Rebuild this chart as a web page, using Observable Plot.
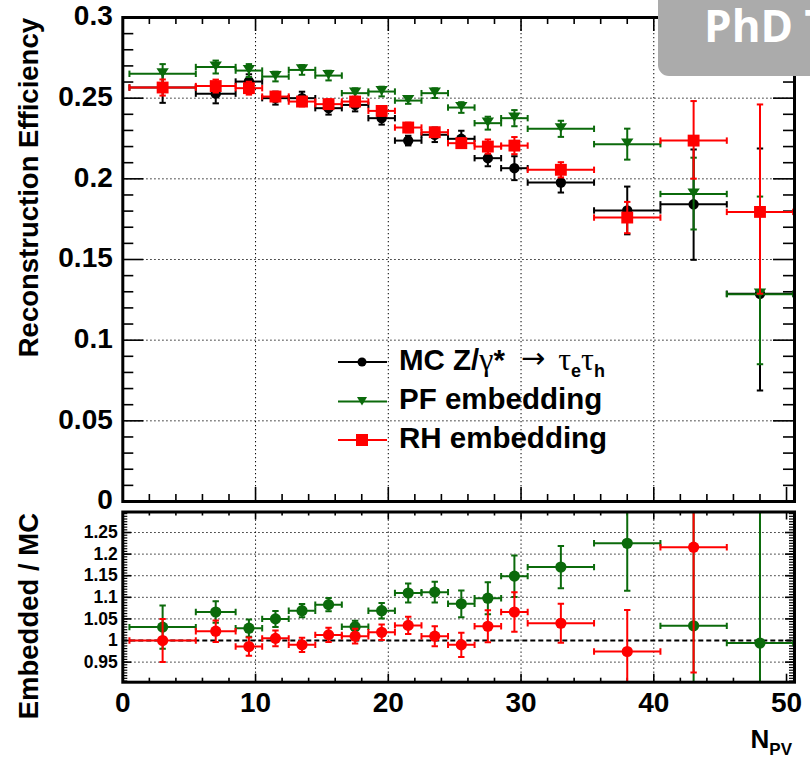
<!DOCTYPE html>
<html><head><meta charset="utf-8">
<script src="https://cdn.jsdelivr.net/npm/d3@7"></script>
<script src="https://cdn.jsdelivr.net/npm/@observablehq/plot@0.6"></script>
<style>
html,body{margin:0;padding:0;background:#fff;overflow:hidden;width:810px;height:762px;}
#wrap{position:relative;width:810px;height:762px;overflow:hidden;background:#fff;}
#wrap svg{display:block;}
#badge{position:absolute;left:658px;top:-14px;width:200px;height:90px;background:#ababab;border-radius:11px;overflow:hidden;}
#badge span{position:absolute;left:46px;top:17px;font-family:"Open Sans",sans-serif;font-weight:bold;font-size:44px;line-height:44px;color:#fff;white-space:nowrap;}
</style></head>
<body>
<div id="wrap"></div>
<script>
// ---------------- data ----------------
const binLo     = [0.5, 5.5, 8.5, 10.5, 12.5, 14.5, 16.5, 18.5, 20.5, 22.5, 24.5, 26.5, 28.5, 30.5, 35.5, 40.5, 45.5];
const binHi     = [5.5, 8.5, 10.5, 12.5, 14.5, 16.5, 18.5, 20.5, 22.5, 24.5, 26.5, 28.5, 30.5, 35.5, 40.5, 45.5, 50.5];
const binCenter = [3, 7, 9.5, 11.5, 13.5, 15.5, 17.5, 19.5, 21.5, 23.5, 25.5, 27.5, 29.5, 33, 38, 43, 48];

// efficiencies with (asymmetric) upper / lower errors
const mcEff   = [0.2566, 0.2528, 0.2603, 0.2500, 0.2500, 0.2438, 0.2458, 0.2376, 0.2237, 0.2273, 0.2248, 0.2128, 0.2066, 0.1977, 0.1804, 0.1842, 0.1288];
const mcErrUp = [0.0095, 0.0060, 0.0045, 0.0040, 0.0040, 0.0040, 0.0040, 0.0040, 0.0030, 0.0045, 0.0050, 0.0050, 0.0074, 0.0062, 0.0148, 0.0340, 0.0900];
const mcErrDn = [0.0095, 0.0060, 0.0045, 0.0040, 0.0040, 0.0040, 0.0040, 0.0040, 0.0030, 0.0045, 0.0050, 0.0050, 0.0074, 0.0062, 0.0148, 0.0344, 0.0600];
const pfEff   = [0.2651, 0.2693, 0.2671, 0.2634, 0.2675, 0.2640, 0.2531, 0.2541, 0.2485, 0.2531, 0.2442, 0.2345, 0.2376, 0.2310, 0.2215, 0.1906, 0.1285];
const pfErrUp = [0.0060, 0.0040, 0.0040, 0.0030, 0.0030, 0.0030, 0.0030, 0.0030, 0.0020, 0.0030, 0.0033, 0.0040, 0.0050, 0.0050, 0.0096, 0.0225, 0.0605];
const pfErrDn = [0.0060, 0.0040, 0.0040, 0.0030, 0.0030, 0.0030, 0.0030, 0.0030, 0.0020, 0.0030, 0.0033, 0.0040, 0.0050, 0.0050, 0.0096, 0.0220, 0.0434];
const rhEff   = [0.2566, 0.2575, 0.2562, 0.2510, 0.2479, 0.2463, 0.2479, 0.2421, 0.2318, 0.2289, 0.2221, 0.2200, 0.2206, 0.2056, 0.1760, 0.2237, 0.1795];
const rhErrUp = [0.0050, 0.0040, 0.0040, 0.0030, 0.0030, 0.0030, 0.0030, 0.0030, 0.0030, 0.0026, 0.0030, 0.0044, 0.0053, 0.0047, 0.0097, 0.0245, 0.0666];
const rhErrDn = [0.0050, 0.0040, 0.0040, 0.0030, 0.0030, 0.0030, 0.0030, 0.0030, 0.0030, 0.0026, 0.0030, 0.0044, 0.0053, 0.0047, 0.0097, 0.0236, 0.0507];

// ratios embedded / MC
const pfRatio    = [1.031, 1.066, 1.0285, 1.050, 1.069, 1.083, 1.032, 1.069, 1.110, 1.112, 1.085, 1.098, 1.149, 1.170, 1.225, 1.034, 0.994];
const pfRatioErr = [0.050, 0.025, 0.020, 0.0185, 0.0154, 0.0154, 0.014, 0.018, 0.022, 0.024, 0.031, 0.037, 0.048, 0.049, 0.110, 0.300, 0.600];
const rhRatio    = [1.000, 1.0216, 0.986, 1.005, 0.990, 1.013, 1.010, 1.019, 1.035, 1.010, 0.990, 1.033, 1.066, 1.040, 0.9746, 1.216, null];
const rhRatioErr = [0.050, 0.025, 0.021, 0.018, 0.0166, 0.0166, 0.017, 0.018, 0.020, 0.023, 0.028, 0.037, 0.046, 0.045, 0.096, 0.290, null];

const xTickLabels     = [0, 10, 20, 30, 40, 50];
const yTickLabelsTop  = [0, 0.05, 0.1, 0.15, 0.2, 0.25, 0.3];
const yTickLabelsRat  = [0.95, 1, 1.05, 1.1, 1.15, 1.2, 1.25];
const xGrid = [10, 20, 30, 40];
const yGridTop = [0.05, 0.1, 0.15, 0.2, 0.25];
const yGridRat = [0.95, 1.05, 1.1, 1.15, 1.2, 1.25];

const seriesNames = ["MC Z/γ* → τeτh", "PF embedding", "RH embedding"];
const colMC = "#000000", colPF = "#0b6a0b", colRH = "#ff0000";

// ---------------- helpers ----------------
const rows = (vals, up, dn) => binCenter.map((c, i) => ({c, lo: binLo[i], hi: binHi[i], v: vals[i], eu: up[i], ed: dn[i]}))
  .filter(d => d.v != null);

const vCap = {draw(ctx, size) { const r = Math.sqrt(size / Math.PI); ctx.moveTo(0, -r); ctx.lineTo(0, r); }};
const hCap = {draw(ctx, size) { const r = Math.sqrt(size / Math.PI); ctx.moveTo(-r, 0); ctx.lineTo(r, 0); }};
const triDown = {draw(ctx, size) { const r = Math.sqrt(size / Math.PI); ctx.moveTo(-r, -0.9 * r); ctx.lineTo(r, -0.9 * r); ctx.lineTo(0, 0.6 * r); ctx.closePath(); }};

function errMarks(data, color, markerOpts, extra = {}) {
  const s = {stroke: color, strokeWidth: 2, ...extra};
  return [
    Plot.ruleY(data, {y: "v", x1: "lo", x2: "hi", ...s}),
    Plot.ruleX(data, {x: "c", y1: d => d.v - d.ed, y2: d => d.v + d.eu, ...s}),
    Plot.dot(data, {x: "lo", y: "v", symbol: vCap, r: 3.2, fill: "none", ...s}),
    Plot.dot(data, {x: "hi", y: "v", symbol: vCap, r: 3.2, fill: "none", ...s}),
    Plot.dot(data, {x: "c", y: d => d.v + d.eu, symbol: hCap, r: 3.2, fill: "none", ...s}),
    Plot.dot(data, {x: "c", y: d => d.v - d.ed, symbol: hCap, r: 3.2, fill: "none", ...s}),
    Plot.dot(data, {x: "c", y: "v", fill: color, stroke: "none", ...markerOpts, ...extra})
  ];
}

function tickMarks(axis, values, len, innerSize, opts) {
  const o = {stroke: "black", strokeWidth: 1.6, ...opts};
  if (axis === "y") return [
    Plot.tickY(values, {y: d => d, insetRight: innerSize - len, ...o}),
    Plot.tickY(values, {y: d => d, insetLeft: innerSize - len, ...o})
  ];
  return [
    Plot.tickX(values, {x: d => d, insetTop: innerSize - len, ...o}),
    Plot.tickX(values, {x: d => d, insetBottom: innerSize - len, ...o})
  ];
}

const W = 810, ML = 122.3, MR = 16, xDomain = [0, 50.6];
const innerW = W - ML - MR;
const fontStack = "'Liberation Sans', Arial, Helvetica, sans-serif";
const fmt = d => String(+d.toFixed(3));

const xMinor = d3.range(0, 50.01, 2).filter(v => v % 10 !== 0);
const xMajor = xTickLabels;

// ---------------- top panel ----------------
const topH = 506, topMT = 17, topMB = 5;
const topInnerH = topH - topMT - topMB;
const yMinorTop = d3.range(0.01, 0.3, 0.01).filter(v => Math.abs(v / 0.05 - Math.round(v / 0.05)) > 1e-6);

const topChart = Plot.plot({
  width: W, height: topH, marginLeft: ML, marginRight: MR, marginTop: topMT, marginBottom: topMB,
  style: {fontFamily: fontStack, fontWeight: "bold", color: "black", background: "white", overflow: "visible"},
  x: {domain: xDomain, axis: null},
  y: {domain: [0, 0.3], axis: null},
  marks: [
    Plot.ruleY(yGridTop, {stroke: "black", strokeWidth: 1, strokeDasharray: "1.3,2.7"}),
    Plot.ruleX(xGrid, {stroke: "black", strokeWidth: 1, strokeDasharray: "1.3,2.7"}),
    ...tickMarks("y", yMinorTop, 11, innerW),
    ...tickMarks("y", yTickLabelsTop, 21, innerW),
    ...tickMarks("x", xMinor, 7, topInnerH),
    ...tickMarks("x", xMajor, 14, topInnerH),
    Plot.axisY(yTickLabelsTop, {tickSize: 0, tickPadding: 10, tickFormat: fmt, label: null, fontSize: 28, fontWeight: "bold", dy: -1}),
    ...errMarks(rows(mcEff, mcErrUp, mcErrDn), colMC, {symbol: "circle", r: 5.2}),
    ...errMarks(rows(pfEff, pfErrUp, pfErrDn), colPF, {symbol: triDown, r: 6.2}),
    ...errMarks(rows(rhEff, rhErrUp, rhErrDn), colRH, {symbol: "square", r: 6.7}),
    Plot.frame({stroke: "black", strokeWidth: 3})
  ]
});

// ---------------- ratio panel ----------------
const ratH = 256, ratMT = 5.5, ratMB = 80.3;
const ratInnerH = ratH - ratMT - ratMB;
const yMinorRat = d3.range(0.90625, 1.297, 0.00625);

const ratChart = Plot.plot({
  width: W, height: ratH, marginLeft: ML, marginRight: MR, marginTop: ratMT, marginBottom: ratMB,
  style: {fontFamily: fontStack, fontWeight: "bold", color: "black", background: "white", overflow: "visible"},
  x: {domain: xDomain, axis: null},
  y: {domain: [0.9035, 1.2975], axis: null},
  marks: [
    Plot.ruleY(yGridRat, {stroke: "black", strokeWidth: 1, strokeDasharray: "1.3,2.7"}),
    Plot.ruleX(xGrid, {stroke: "black", strokeWidth: 1, strokeDasharray: "1.3,2.7"}),
    Plot.ruleY([1], {stroke: "black", strokeWidth: 1.8, strokeDasharray: "5,3"}),
    ...tickMarks("y", yMinorRat, 5, innerW, {strokeWidth: 1.2}),
    ...tickMarks("y", yTickLabelsRat, 9, innerW),
    ...tickMarks("x", xMinor, 4, ratInnerH),
    ...tickMarks("x", xMajor, 8, ratInnerH),
    Plot.axisY(yTickLabelsRat, {tickSize: 0, tickPadding: 5, tickFormat: fmt, label: null, fontSize: 17.5, fontWeight: "bold"}),
    Plot.axisX(xTickLabels, {tickSize: 0, tickPadding: 10, tickFormat: fmt, label: null, fontSize: 28, fontWeight: "bold"}),
    ...errMarks(rows(pfRatio, pfRatioErr, pfRatioErr), colPF, {symbol: "circle", r: 5.6}, {clip: true}),
    ...errMarks(rows(rhRatio, rhRatioErr, rhRatioErr), colRH, {symbol: "circle", r: 5.6}, {clip: true}),
    Plot.frame({stroke: "black", strokeWidth: 3})
  ]
});

// ---------------- titles & legend ----------------
const ts = d3.select(topChart);
ts.append("text")
  .attr("transform", "translate(38,18) rotate(-90)")
  .attr("text-anchor", "end").attr("font-size", 27.5).attr("font-weight", "bold")
  .attr("font-family", fontStack).attr("fill", "black")
  .text("Reconstruction Efficiency");

const leg = ts.append("g").attr("font-family", fontStack).attr("font-weight", "bold").attr("font-size", 29.5)
  .attr("fill", "black").attr("text-anchor", "start");
const legRows = [
  {y: 362, color: colMC, sym: "circle"},
  {y: 401.5, color: colPF, sym: "tri"},
  {y: 440, color: colRH, sym: "square"}
];
legRows.forEach(r => {
  leg.append("line").attr("x1", 338).attr("x2", 387).attr("y1", r.y).attr("y2", r.y)
    .attr("stroke", r.color).attr("stroke-width", 2);
  if (r.sym === "circle") leg.append("circle").attr("cx", 362).attr("cy", r.y).attr("r", 4.5).attr("fill", r.color);
  else if (r.sym === "tri") leg.append("path").attr("d", `M${362-5},${r.y-4.5}L${362+5},${r.y-4.5}L${362},${r.y+4}Z`).attr("fill", r.color);
  else leg.append("rect").attr("x", 362 - 6).attr("y", r.y - 6).attr("width", 12).attr("height", 12).attr("fill", r.color);
});
const greek = "'Liberation Serif', serif";
const t1 = leg.append("text").attr("x", 399).attr("y", 370);
t1.append("tspan").text("MC Z/");
t1.append("tspan").attr("font-family", greek).attr("font-weight", "normal").attr("font-size", 32).text("γ");
t1.append("tspan").text("*");
t1.append("tspan").attr("dx", 16).attr("font-family", "'DejaVu Sans', sans-serif").attr("font-weight", "normal").attr("font-size", 29).attr("dy", -2).text("→");
t1.append("tspan").attr("dx", 13).attr("font-family", greek).attr("font-weight", "normal").attr("font-size", 32).attr("dy", 2).text("τ");
t1.append("tspan").attr("font-size", 18).attr("dy", 7).text("e");
t1.append("tspan").attr("font-family", greek).attr("font-weight", "normal").attr("font-size", 32).attr("dy", -7).text("τ");
t1.append("tspan").attr("font-size", 18).attr("dy", 7).text("h");
leg.append("text").attr("x", 399).attr("y", 409).text(seriesNames[1]);
leg.append("text").attr("x", 399).attr("y", 447.5).text(seriesNames[2]);

const rs = d3.select(ratChart);
rs.append("text")
  .attr("transform", "translate(38,7) rotate(-90)")
  .attr("text-anchor", "end").attr("font-size", 27.5).attr("font-weight", "bold")
  .attr("font-family", fontStack).attr("fill", "black")
  .text("Embedded / MC");
const xl = rs.append("text").attr("x", 792).attr("y", 242).attr("text-anchor", "end")
  .attr("font-family", fontStack).attr("font-weight", "bold").attr("font-size", 26).attr("fill", "black");
xl.append("tspan").text("N");
xl.append("tspan").attr("font-size", 17).attr("dy", 7).text("PV");

const wrap = document.getElementById("wrap");
wrap.appendChild(topChart);
wrap.appendChild(ratChart);
const badge = document.createElement("div");
badge.id = "badge";
badge.innerHTML = "<span>PhD Thesis</span>";
wrap.appendChild(badge);
</script>
</body></html>
